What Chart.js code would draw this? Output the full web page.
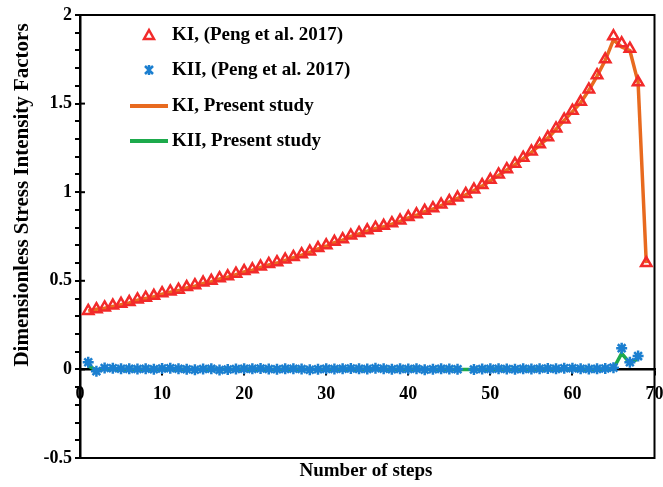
<!DOCTYPE html>
<html>
<head>
<meta charset="utf-8">
<script src="https://cdn.jsdelivr.net/npm/chart.js"></script>
<style>
  body { margin: 0; background: #fff; }
</style>
</head>
<body>
<canvas id="chart" width="663" height="487"></canvas>
<script>
const steps = [1,2,3,4,5,6,7,8,9,10,11,12,13,14,15,16,17,18,19,20,21,22,23,24,25,26,27,28,29,30,
  31,32,33,34,35,36,37,38,39,40,41,42,43,44,45,46,47,48,49,50,51,52,53,54,55,56,57,58,59,60,
  61,62,63,64,65,66,67,68,69]

const kiPeng = [0.33,0.34,0.35,0.36,0.37,0.38,0.395,0.405,0.415,0.43,
  0.44,0.45,0.465,0.475,0.49,0.50,0.515,0.525,0.54,0.555,
  0.565,0.58,0.595,0.605,0.62,0.635,0.65,0.665,0.685,0.70,
  0.72,0.735,0.755,0.77,0.785,0.80,0.81,0.825,0.84,0.86,
  0.875,0.895,0.91,0.93,0.95,0.97,0.99,1.015,1.04,1.07,
  1.10,1.13,1.16,1.195,1.23,1.27,1.31,1.36,1.41,1.46,
  1.51,1.58,1.66,1.75,1.88,1.84,1.81,1.62,0.60]

const kiiPeng = [0.04,-0.01,0.008,0.006,0.004,0.003,0.002,0.004,0.001,0.005,
  0.007,0.004,0.001,-0.002,0.002,0.004,-0.003,0.0,0.002,0.004,
  0.003,0.005,0.002,0.001,0.003,0.004,0.002,-0.002,0.001,0.003,
  0.002,0.004,0.005,0.003,0.002,0.006,0.004,0.001,0.003,0.002,
  0.004,-0.002,0.001,0.003,0.002,0.001,null,0.0,0.002,0.003,
  0.004,0.002,0.001,0.003,0.002,0.004,0.005,0.003,0.006,0.007,
  0.004,0.002,0.003,0.005,0.01,0.12,0.04,0.075,null]

const kiPresent = [0.33,0.34,0.345,0.355,0.365,0.375,0.39,0.40,0.41,0.425,
  0.435,0.445,0.46,0.47,0.485,0.495,0.51,0.52,0.535,0.55,
  0.56,0.575,0.59,0.60,0.615,0.63,0.645,0.66,0.68,0.695,
  0.715,0.73,0.75,0.765,0.78,0.795,0.805,0.82,0.835,0.855,
  0.87,0.89,0.905,0.925,0.945,0.965,0.985,1.01,1.035,1.065,
  1.095,1.125,1.155,1.19,1.225,1.265,1.305,1.355,1.405,1.455,
  1.505,1.575,1.655,1.745,1.86,1.82,1.80,1.62,0.60]

const kiiPresent = [0.02,-0.004,0.002,0.001,0.0,0.001,0.0,0.001,0.0,0.002,
  0.003,0.002,0.0,-0.001,0.001,0.002,-0.001,0.0,0.001,0.002,
  0.001,0.002,0.001,0.0,0.001,0.002,0.001,-0.001,0.0,0.001,
  0.001,0.002,0.002,0.001,0.001,0.003,0.002,0.0,0.001,0.001,
  0.002,-0.001,0.0,0.001,0.001,0.0,0.0,0.0,0.001,0.001,
  0.002,0.001,0.0,0.001,0.001,0.002,0.002,0.001,0.003,0.003,
  0.002,0.001,0.001,0.002,0.005,0.09,0.035,0.06,null]

const legendLabels = ['KI, (Peng et al. 2017)', 'KII, (Peng et al. 2017)', 'KI, Present study', 'KII, Present study']

const RED = '#f22a2a', BLUE = '#1b7fd0', ORANGE = '#e86a1f', GREEN = '#1daa4c'
const FONT = '"Liberation Serif", "Times New Roman", serif'

const pts = vals => steps.map((s, i) => ({ x: s, y: vals[i] }))

// frame box, inward major ticks, axis titles and the legend
const decor = {
  id: 'decor',
  beforeDatasetsDraw(chart) {
    const { ctx, chartArea: a } = chart
    const y = chart.scales.y
    ctx.save()
    ctx.strokeStyle = '#000'
    ctx.lineWidth = 2
    ctx.beginPath()
    ctx.moveTo(a.left, a.top); ctx.lineTo(a.right, a.top)
    ctx.lineTo(a.right, a.bottom); ctx.lineTo(a.left, a.bottom)
    ctx.stroke()
    y.ticks.forEach(t => {
      if (Math.abs(t.value * 2 - Math.round(t.value * 2)) < 1e-6) {
        const py = y.getPixelForValue(t.value)
        ctx.beginPath(); ctx.moveTo(a.left, py); ctx.lineTo(a.left + 5, py); ctx.stroke()
      }
    })
    ctx.restore()
  },
  afterDraw(chart) {
    const { ctx } = chart
    ctx.save()
    ctx.fillStyle = '#000'
    ctx.textAlign = 'center'
    ctx.textBaseline = 'middle'
    ctx.font = 'bold 19px ' + FONT
    ctx.fillText('Number of steps', 366, 471)
    ctx.translate(23, 195)
    ctx.rotate(-Math.PI / 2)
    ctx.font = 'bold 21px ' + FONT
    ctx.fillText('Dimensionless Stress Intensity Factors', 0, 0)
    ctx.restore()

    // legend
    const rows = [35, 70, 106, 141]
    ctx.save()
    ctx.font = 'bold 19px ' + FONT
    ctx.textBaseline = 'middle'
    ctx.fillStyle = '#000'
    legendLabels.forEach((t, i) => ctx.fillText(t, 172, rows[i]))
    ctx.strokeStyle = RED; ctx.lineWidth = 2.5
    ctx.beginPath()
    ctx.moveTo(149, rows[0] - 5); ctx.lineTo(154, rows[0] + 4); ctx.lineTo(144, rows[0] + 4)
    ctx.closePath(); ctx.stroke()
    ctx.strokeStyle = BLUE
    ctx.beginPath()
    const cy = rows[1]
    ctx.moveTo(145, cy - 4); ctx.lineTo(153, cy + 4)
    ctx.moveTo(153, cy - 4); ctx.lineTo(145, cy + 4)
    ctx.moveTo(149, cy - 5); ctx.lineTo(149, cy + 5)
    ctx.stroke()
    ctx.lineWidth = 4
    ctx.strokeStyle = ORANGE
    ctx.beginPath(); ctx.moveTo(130, rows[2]); ctx.lineTo(168, rows[2]); ctx.stroke()
    ctx.strokeStyle = GREEN
    ctx.beginPath(); ctx.moveTo(130, rows[3]); ctx.lineTo(168, rows[3]); ctx.stroke()
    ctx.restore()
  }
}

new Chart(document.getElementById('chart'), {
  type: 'line',
  data: {
    datasets: [
      {
        label: legendLabels[0], data: pts(kiPeng), showLine: false, order: 0,
        pointStyle: 'triangle', pointRadius: 6, borderColor: RED, backgroundColor: 'rgba(0,0,0,0)',
        pointBorderWidth: 2.5
      },
      {
        label: legendLabels[1], data: pts(kiiPeng), showLine: false, order: 0,
        pointStyle: 'star', pointRadius: 5.5, borderColor: BLUE, backgroundColor: BLUE,
        pointBorderWidth: 2.5
      },
      {
        label: legendLabels[2], data: pts(kiPresent), order: 1,
        borderColor: ORANGE, borderWidth: 3.5, pointRadius: 0, tension: 0
      },
      {
        label: legendLabels[3], data: pts(kiiPresent), order: 1,
        borderColor: GREEN, borderWidth: 3.5, pointRadius: 0, tension: 0
      }
    ]
  },
  options: {
    responsive: false,
    animation: false,
    layout: { padding: { top: 15, right: 8, bottom: 29, left: 0 } },
    plugins: { legend: { display: false }, tooltip: { enabled: false } },
    scales: {
      x: {
        type: 'linear', min: 0, max: 70,
        position: { y: 0 },
        afterFit: s => { s.paddingLeft = 0; s.paddingRight = 0 },
        grid: { drawOnChartArea: false, color: '#000', tickLength: 5, lineWidth: 2 },
        border: { color: '#000', width: 2.5 },
        ticks: { stepSize: 10, color: '#000', padding: 9, font: { family: FONT, size: 18, weight: 'bold' } }
      },
      y: {
        min: -0.5, max: 2,
        afterFit: s => { s.width = 80 },
        grid: { drawOnChartArea: false, color: '#000', tickLength: 5, lineWidth: 2 },
        border: { color: '#000', width: 2.5 },
        ticks: {
          stepSize: 0.1, autoSkip: false, color: '#000', padding: 3,
          font: { family: FONT, size: 18, weight: 'bold' },
          callback: v => Math.abs(v * 2 - Math.round(v * 2)) < 1e-6 ? String(Math.round(v * 10) / 10) : ''
        }
      }
    }
  },
  plugins: [decor]
})
</script>
</body>
</html>
